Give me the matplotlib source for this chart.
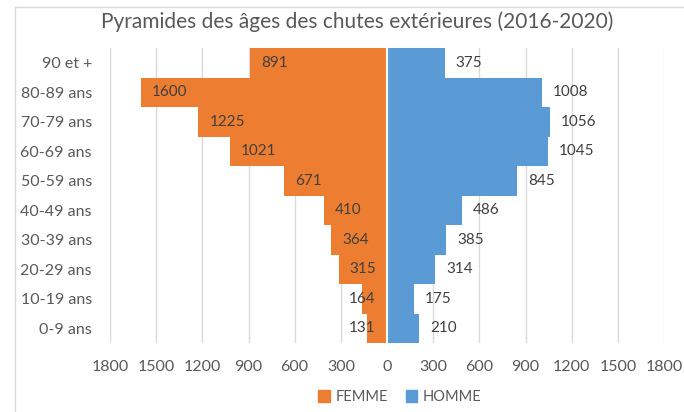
import matplotlib
matplotlib.use('Agg')
import matplotlib.pyplot as plt
from matplotlib.lines import Line2D
from matplotlib.patches import Patch
import numpy as np

plt.rcParams['font.family'] = ['Lato', 'DejaVu Sans']

ages = ['0-9 ans', '10-19 ans', '20-29 ans', '30-39 ans', '40-49 ans',
        '50-59 ans', '60-69 ans', '70-79 ans', '80-89 ans', '90 et +']
femme = [131, 164, 315, 364, 410, 671, 1021, 1225, 1600, 891]
homme = [210, 175, 314, 385, 486, 845, 1045, 1056, 1008, 375]
ticks = [-1800, -1500, -1200, -900, -600, -300, 0, 300, 600, 900, 1200, 1500, 1800]

orange = '#ED7D31'
blue = '#5B9BD5'
txt = '#595959'

fig = plt.figure(figsize=(6.84, 4.12), dpi=100)
ax = fig.add_axes([110 / 684, 69 / 412, 554 / 684, 295 / 412])

y = np.arange(len(ages))
ax.barh(y, [-v for v in femme], height=1.0, color=orange, zorder=2)
ax.barh(y, homme, height=1.0, color=blue, zorder=2)
ax.axvline(0, color='white', lw=1.5, zorder=3)

ax.set_xlim(-1800, 1800)
ax.set_ylim(-0.5, len(ages) - 0.5)
ax.set_xticks(ticks)
ax.set_xticklabels([str(abs(t)) for t in ticks])
ax.set_yticks(y)
ax.set_yticklabels(ages)
ax.tick_params(axis='both', length=0, labelcolor=txt)
ax.tick_params(axis='x', pad=12, labelsize=11.5)
ax.tick_params(axis='y', pad=13, labelsize=11.5)
ax.grid(axis='x', color='#d9d9d9', lw=1, zorder=0)
ax.set_axisbelow(True)
for s in ax.spines.values():
    s.set_visible(False)

for i, v in enumerate(homme):
    ax.annotate(str(v), (v, i), xytext=(8, 0), textcoords='offset points',
                ha='left', va='center', fontsize=11, color='#404040')
for i, v in enumerate(femme):
    if v < 250:
        ax.annotate(str(v), (0, i), xytext=(-8, 0), textcoords='offset points',
                    ha='right', va='center', fontsize=11, color='#404040')
    else:
        ax.annotate(str(v), (-v, i), xytext=(8, 0), textcoords='offset points',
                    ha='left', va='center', fontsize=11, color='#404040')

fig.text(357 / 684, 1 - 22 / 412, 'Pyramides des âges des chutes extérieures (2016-2020)',
         ha='center', va='center', fontsize=15, color=txt)

handles = [Patch(color=orange, label='FEMME'), Patch(color=blue, label='HOMME')]
fig.legend(handles=handles, loc='center', bbox_to_anchor=(400 / 684, 1 - 397 / 412),
           ncol=2, frameon=False, fontsize=10.5, labelcolor=txt,
           handlelength=0.8, handleheight=0.8, handletextpad=0.4, columnspacing=1.2)

fig.add_artist(Line2D([15 / 684, 15 / 684], [0, 1 - 7 / 412], color='#d9d9d9', lw=1,
                      transform=fig.transFigure))
fig.add_artist(Line2D([15 / 684, 1], [1 - 7 / 412, 1 - 7 / 412], color='#d9d9d9', lw=1,
                      transform=fig.transFigure))

fig.savefig('out.png', dpi=100)
